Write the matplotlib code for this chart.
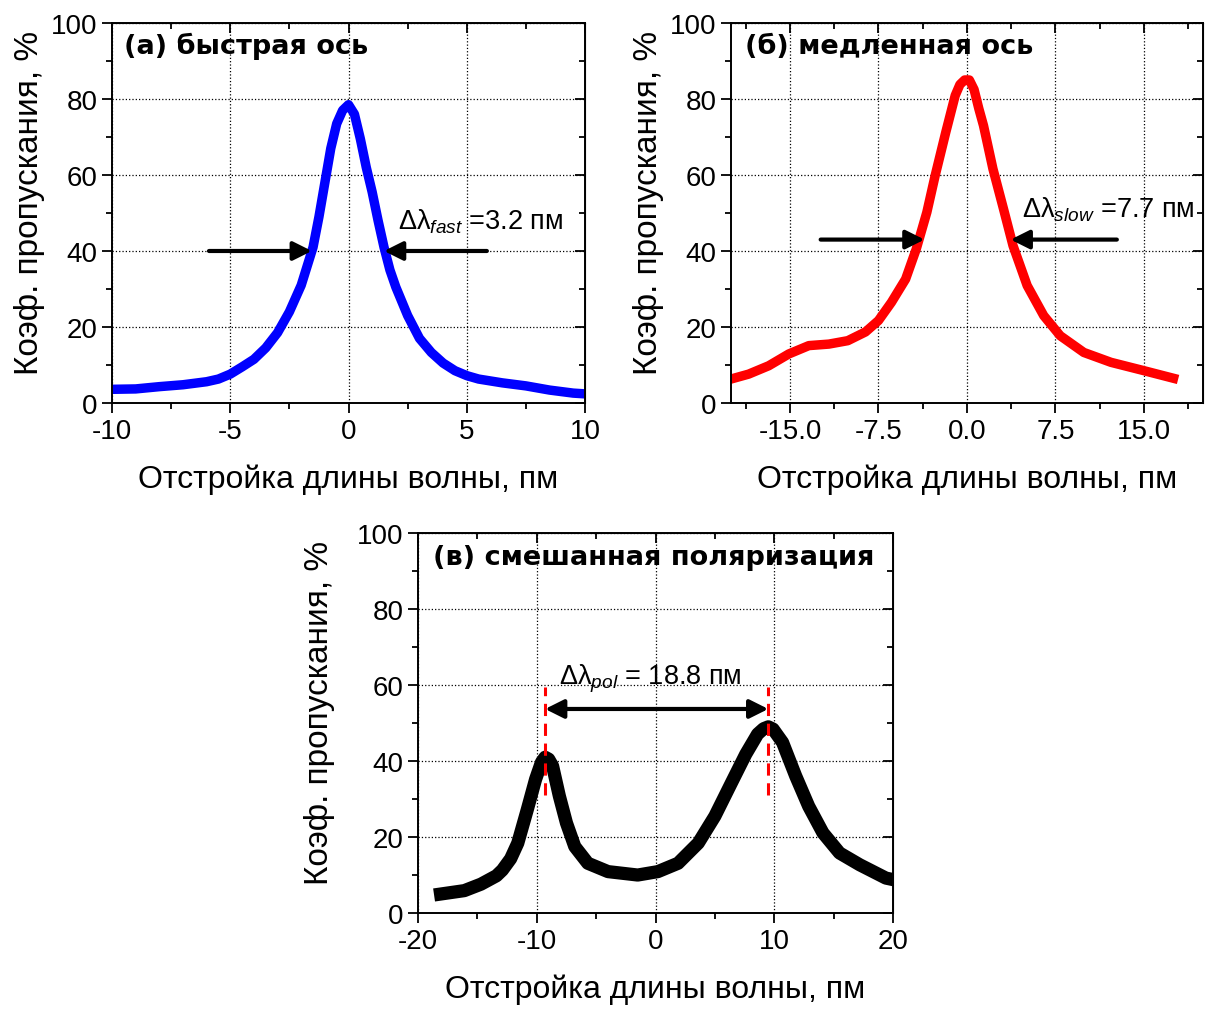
import matplotlib
matplotlib.use("Agg")
import matplotlib.pyplot as plt
from matplotlib.ticker import MultipleLocator, FormatStrFormatter

plt.rcParams['font.family'] = ['Liberation Sans', 'DejaVu Sans']
plt.rcParams['mathtext.fontset'] = 'custom'
plt.rcParams['mathtext.rm'] = 'Liberation Sans'
plt.rcParams['mathtext.it'] = 'Liberation Sans:italic'
plt.rcParams['axes.unicode_minus'] = False

# (а) быстрая ось
x_fast = [-10, -9, -8, -7, -6, -5.5, -5, -4.5, -4, -3.5, -3, -2.5, -2.2, -2, -1.5, -1.25,
          -1.0, -0.75, -0.5, -0.25, 0, 0.25, 0.5, 0.75, 1.0, 1.25, 1.5, 1.75, 2.0, 2.5,
          3.0, 3.5, 4.0, 4.5, 5.0, 5.5, 6.5, 7.5, 8.5, 9.5, 10]
y_fast = [3.6, 3.7, 4.3, 4.8, 5.6, 6.3, 7.6, 9.5, 11.5, 14.5, 18.5, 24, 28.2, 31, 41, 49,
          58, 67, 73.5, 77, 78.5, 76, 69.5, 62, 55.5, 48, 41, 35, 30.5, 23,
          17, 13.3, 10.5, 8.5, 7.2, 6.3, 5.3, 4.5, 3.4, 2.6, 2.4]

# (б) медленная ось
x_slow = [-20, -18.5, -16.8, -15.1, -13.4, -11.7, -10.1, -8.6, -7.5, -6.4, -5.2, -4.3,
          -3.4, -2.7, -1.8, -1.0, -0.6, -0.2, 0.2, 0.6, 1.0, 1.4, 2.2, 3.1, 3.9, 5.1, 6.5,
          7.9, 9.9, 12.2, 15, 17.5]
y_slow = [6.3, 7.6, 9.8, 12.9, 15.1, 15.5, 16.4, 18.7, 21.7, 26.5, 32.6, 40.5,
          50.2, 59.8, 71.2, 80.9, 83.8, 85, 85, 82.5, 77.5, 73, 61.6, 51, 41.4, 30.9, 23,
          17.7, 13.3, 10.7, 8.5, 6.5]

# (в) смешанная поляризация
x_mix = [-18.1, -16.1, -14.7, -13.4, -12.9, -12.2, -11.6, -10.8, -10.1, -9.6, -9.3, -9.0,
         -8.67, -8.1, -7.5, -6.8, -5.7, -4.0, -1.5, 0.2, 1.9, 3.6, 5.0, 6.4, 7.6, 8.6, 9.1,
         9.5, 9.9, 10.7, 11.8, 12.9, 14.1, 15.5, 17.2, 19.4, 20]
y_mix = [5.0, 5.9, 7.6, 9.8, 11.3, 14.3, 18.4, 27.2, 35.2, 39.7, 41, 40.5,
         38.7, 30.8, 23.7, 17.5, 13.1, 10.9, 10.0, 10.9, 13.1, 18.4, 25.5, 34.3, 41.8, 47.1, 48.5,
         49, 48.4, 44.9, 36.1, 28.1, 21.1, 15.8, 12.7, 9.2, 8.8]

peaks_mix = [-9.3, 9.5]  # 18.8 пм между пиками

fig = plt.figure(figsize=(12.11, 10.12), dpi=100)
ax_a = fig.add_axes([0.0925, 0.6008, 0.3906, 0.3755])
ax_b = fig.add_axes([0.6036, 0.6008, 0.3898, 0.3755])
ax_c = fig.add_axes([0.3452, 0.0968, 0.3922, 0.3755])


def style(ax, xlim, xmaj, xmin, ypad=4):
    ax.set_xlim(*xlim)
    ax.set_ylim(0, 100)
    ax.xaxis.set_major_locator(MultipleLocator(xmaj))
    ax.xaxis.set_minor_locator(MultipleLocator(xmin))
    ax.yaxis.set_major_locator(MultipleLocator(20))
    ax.yaxis.set_minor_locator(MultipleLocator(10))
    ax.tick_params(which='both', direction='out', labelsize=20, width=1.3)
    ax.tick_params(which='major', length=7)
    ax.tick_params(which='minor', length=4)
    ax.grid(True, which='major', linestyle=':', color='k', linewidth=0.9)
    for s in ax.spines.values():
        s.set_linewidth(1.4)
    # внутренние засечки сверху и справа
    top = ax.secondary_xaxis('top')
    top.xaxis.set_major_locator(MultipleLocator(xmaj))
    top.xaxis.set_minor_locator(MultipleLocator(xmin))
    right = ax.secondary_yaxis('right')
    right.yaxis.set_major_locator(MultipleLocator(20))
    right.yaxis.set_minor_locator(MultipleLocator(10))
    for tw in (top, right):
        tw.tick_params(which='both', direction='in', width=1.3,
                       labeltop=False, labelright=False)
        tw.tick_params(which='major', length=7)
        tw.tick_params(which='minor', length=4)
    ax.set_xlabel('Отстройка длины волны, пм', fontsize=23, labelpad=14)
    ax.set_ylabel('Коэф. пропускания, %', fontsize=24, labelpad=ypad, y=0.53)


def arrow(ax, x0, x1, y, style='-|>'):
    ax.annotate('', xy=(x1, y), xytext=(x0, y),
                arrowprops=dict(arrowstyle=style, color='k', lw=3,
                                mutation_scale=28, shrinkA=0, shrinkB=0))


# (а)
style(ax_a, (-10, 10), 5, 2.5)
ax_a.plot(x_fast, y_fast, color='#0000ff', lw=6.8, solid_joinstyle='round',
          solid_capstyle='projecting')
arrow(ax_a, -5.9, -1.55, 40)
arrow(ax_a, 5.85, 1.5, 40)
ax_a.text(2.1, 48, 'Δλ$_{fast}$ =3.2 пм', fontsize=19.5, va='center')
ax_a.text(0.025, 0.94, '(a) быстрая ось', transform=ax_a.transAxes, fontsize=19.5,
          fontweight='bold', family='DejaVu Sans', va='center')

# (б)
style(ax_b, (-20, 20), 7.5, 3.75)
ax_b.xaxis.set_major_formatter(FormatStrFormatter('%.1f'))
ax_b.plot(x_slow, y_slow, color='#ff0000', lw=6.8, solid_joinstyle='round',
          solid_capstyle='projecting')
arrow(ax_b, -12.4, -3.6, 43)
arrow(ax_b, 12.7, 3.7, 43)
ax_b.text(4.7, 51, 'Δλ$_{slow}$ =7.7 пм', fontsize=19.5, va='center')
ax_b.text(0.03, 0.94, '(б) медленная ось', transform=ax_b.transAxes, fontsize=19.5,
          fontweight='bold', family='DejaVu Sans', va='center')

# (в)
style(ax_c, (-20, 20), 10, 5, ypad=16)
ax_c.plot(x_mix, y_mix, color='k', lw=9.5, solid_joinstyle='round',
          solid_capstyle='projecting')
for xp in peaks_mix:
    ax_c.plot([xp, xp], [31, 59.5], color='#ff0000', lw=2.2, linestyle=(0, (4, 2.5)))
arrow(ax_c, peaks_mix[0], peaks_mix[1], 53.7, style='<|-|>')
ax_c.text(-8.1, 62, 'Δλ$_{pol}$ = 18.8 пм', fontsize=19.5, va='center')
ax_c.text(0.032, 0.937, '(в) смешанная поляризация', transform=ax_c.transAxes,
          fontsize=19.5, fontweight='bold', family='DejaVu Sans', va='center')

fig.savefig('out.png', dpi=100)
